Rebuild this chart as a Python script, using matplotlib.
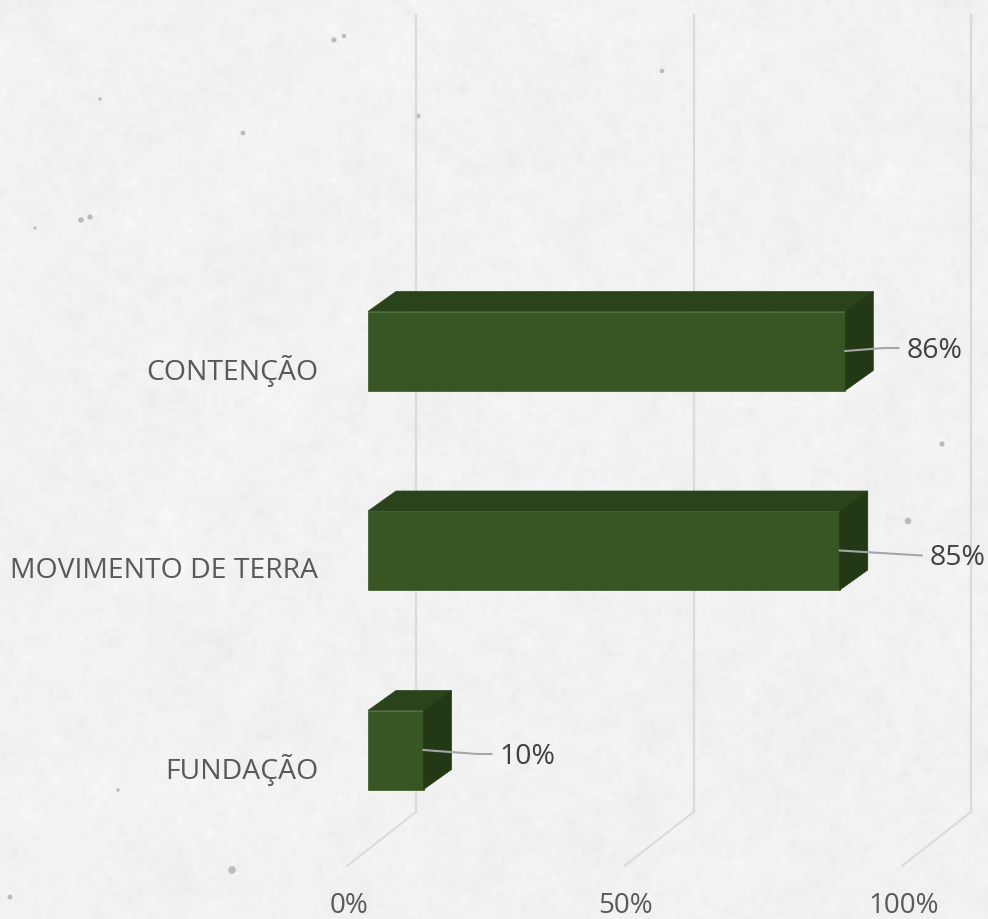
import numpy as np
import matplotlib
matplotlib.use('Agg')
import matplotlib.pyplot as plt
from matplotlib.patches import Polygon

categories = ['FUNDAÇÃO', 'MOVIMENTO DE TERRA', 'CONTENÇÃO']
values = [10, 85, 86]
grid_ticks = [0, 50, 100]
tick_labels = ['0%', '50%', '100%']

W, H = 988, 919
PX_X = 5.55      # pixels per percent
PX_Y = 199.5     # pixels per category
X0, Y0 = 368, 750  # pixel of 0% / first category on the front plane

plt.rcParams['font.family'] = ['Open Sans', 'DejaVu Sans']
fig = plt.figure(figsize=(W / 100, H / 100), dpi=100)
ax = fig.add_axes([0, 0, 1, 1])
ax.set_xlim(-X0 / PX_X, (W - X0) / PX_X)
ax.set_ylim((Y0 - H) / PX_Y, Y0 / PX_Y)
ax.axis('off')

# paper background, only a texture
rng = np.random.default_rng(4)
paper = np.zeros((H, W))
for cell, amp in [(5, 1.6), (14, 1.4), (60, 1.0)]:
    coarse = rng.normal(0, amp, (H // cell + 2, W // cell + 2))
    yi = np.linspace(0, coarse.shape[0] - 1.001, H)
    xi = np.linspace(0, coarse.shape[1] - 1.001, W)
    y0 = yi.astype(int)
    x0 = xi.astype(int)
    fy = (yi - y0)[:, None]
    fx = (xi - x0)[None, :]
    paper += (coarse[y0][:, x0] * (1 - fy) * (1 - fx) + coarse[y0 + 1][:, x0] * fy * (1 - fx)
              + coarse[y0][:, x0 + 1] * (1 - fy) * fx + coarse[y0 + 1][:, x0 + 1] * fy * fx)
ax.imshow(np.clip(241 + paper, 0, 255), cmap='gray', vmin=0, vmax=255, aspect='auto', zorder=0,
          extent=[*ax.get_xlim(), *ax.get_ylim()])
ax.set_xlim(-X0 / PX_X, (W - X0) / PX_X)
ax.set_ylim((Y0 - H) / PX_Y, Y0 / PX_Y)

# smudges on the paper
speck_x = [81, 90, 100, 243, 334, 344, 662, 418, 942, 908, 232, 10, 35, 118]
speck_y = [220, 217, 99, 133, 40, 36, 71, 116, 444, 521, 870, 897, 228, 790]
speck_s = [16, 14, 6, 12, 14, 10, 10, 12, 14, 22, 30, 12, 5, 6]
ax.scatter((np.array(speck_x) - X0) / PX_X, (Y0 - np.array(speck_y)) / PX_Y, s=speck_s, color='#a8a8a8',
           linewidths=0, alpha=0.75, zorder=1)

depth_x = 28 / PX_X
depth_y = 20 / PX_Y
bar_h = 79 / PX_Y
back_floor = (Y0 - 812) / PX_Y
top = (Y0 - 15) / PX_Y
floor_dx = -69 / PX_X
floor_dy = -54 / PX_Y

for t, lab in zip(grid_ticks, tick_labels):
    bx = t + 48 / PX_X
    ax.plot([bx, bx], [back_floor, top], color='#dadada', lw=1.6, zorder=2)
    ax.plot([bx, bx + floor_dx], [back_floor, back_floor + floor_dy], color='#dadada', lw=1.4, zorder=2)
    ax.text(bx + floor_dx + 1.5 / PX_X, (Y0 - 906) / PX_Y, lab, ha='center', va='center', fontsize=20, color='#595959')

for i, (cat, val) in enumerate(zip(categories, values)):
    y1, y2 = i - bar_h / 2, i + bar_h / 2
    ax.add_patch(Polygon([(0, y1), (val, y1), (val, y2), (0, y2)], fc='#375623', ec='#375623', lw=0.5, zorder=3))
    ax.add_patch(Polygon([(0, y2), (val, y2), (val + depth_x, y2 + depth_y), (depth_x, y2 + depth_y)],
                         fc='#2b431b', ec='#2b431b', lw=0.5, zorder=3))
    ax.add_patch(Polygon([(val, y1), (val + depth_x, y1 + depth_y), (val + depth_x, y2 + depth_y), (val, y2)],
                         fc='#233814', ec='#233814', lw=0.5, zorder=3))
    ax.text(-50 / PX_X, i - 20 / PX_Y, cat, ha='right', va='center', fontsize=20.4, color='#595959')
    # leader + data label
    if i == 2:
        ly, lx, bend = i + 3 / PX_Y, 53, 39
    elif i == 1:
        ly, lx, bend = i - 5 / PX_Y, 82, 82
    else:
        ly, lx, bend = i - 4 / PX_Y, 68, 54
    start_y = i
    ax.plot([val, val + bend / PX_X, val + lx / PX_X], [start_y, ly, ly], color='#a6a6a6', lw=1.5, zorder=4)
    ax.text(val + (lx + 8) / PX_X, ly - 2.5 / PX_Y, f'{val}%', ha='left', va='center', fontsize=20.4, color='#404040', zorder=5)

fig.savefig('out.png', dpi=100)
